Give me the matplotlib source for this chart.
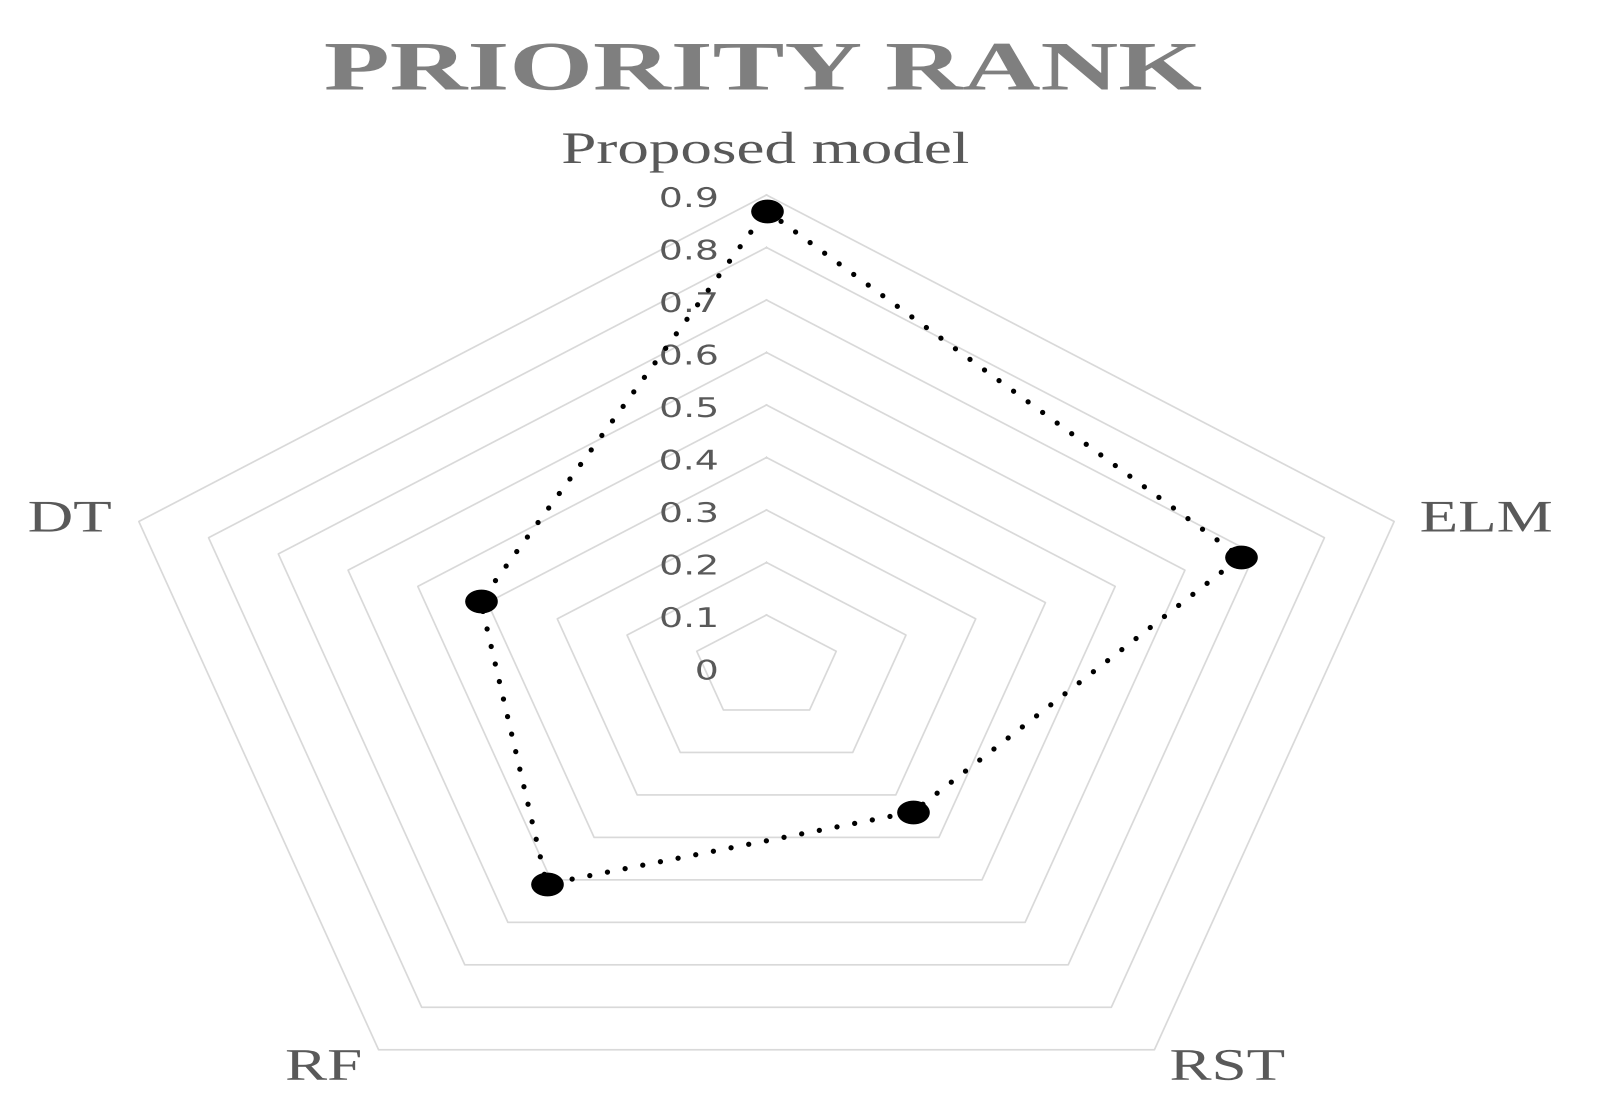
"""Radar chart: priority rank of the proposed model against ELM, RST, RF and DT."""

import matplotlib

matplotlib.use("Agg")
import matplotlib.pyplot as plt
import numpy as np
from matplotlib import patheffects
from matplotlib.transforms import Affine2D


categories = ["Proposed model", "ELM", "RST", "RF", "DT"]
scores = [0.87, 0.68, 0.34, 0.51, 0.41]
levels = [0.1, 0.2, 0.3, 0.4, 0.5, 0.6, 0.7, 0.8, 0.9]
tick_values = [0.0, 0.1, 0.2, 0.3, 0.4, 0.5, 0.6, 0.7, 0.8, 0.9]
tick_labels = ["0", "0.1", "0.2", "0.3", "0.4", "0.5", "0.6", "0.7", "0.8", "0.9"]

W, H = 1602, 1109
DPI = 100
CENTER = (766.5, 667.5)      # chart centre in pixels, from top-left
PX_PER_UNIT = (733.3, 525.0)  # the source picture is stretched sideways
STRETCH = PX_PER_UNIT[0] / PX_PER_UNIT[1]

# label offsets (pixels) from the outer ring vertex
label_offsets = [(-1, 32), (92, -10), (73, -30), (-55, -30), (-69, -10)]


class Stretch(patheffects.AbstractPathEffect):
    """Draw text widened horizontally, like the rest of the picture."""

    def __init__(self, sx=STRETCH, anchor="center"):
        super().__init__()
        self.sx = sx
        self.anchor = anchor

    def draw_path(self, renderer, gc, tpath, affine, rgbFace=None):
        ext = tpath.get_extents()
        x0 = {"left": ext.x0, "right": ext.x1}.get(self.anchor, (ext.x0 + ext.x1) / 2)
        widen = Affine2D().translate(-x0, 0).scale(self.sx, 1).translate(x0, 0)
        renderer.draw_path(gc, tpath, widen + affine, rgbFace)


fig = plt.figure(figsize=(W / DPI, H / DPI), dpi=DPI)
ax = fig.add_axes([0, 0, 1, 1])
ax.set_xlim(-CENTER[0] / PX_PER_UNIT[0], (W - CENTER[0]) / PX_PER_UNIT[0])
ax.set_ylim(-(H - CENTER[1]) / PX_PER_UNIT[1], CENTER[1] / PX_PER_UNIT[1])
ax.axis("off")

n = len(categories)
theta = 2 * np.pi * np.arange(n) / n
ux, uy = np.sin(theta), np.cos(theta)

# grid pentagons
for lv in levels:
    ax.plot(np.append(lv * ux, lv * ux[0]), np.append(lv * uy, lv * uy[0]),
            color="#d9d9d9", lw=1.2, zorder=1)

# data series
vals = np.array(scores)
px, py = vals * ux, vals * uy
ax.plot(np.append(px, px[0]), np.append(py, py[0]), color="black", lw=3.8,
        dashes=(0.01, 3.4), dash_capstyle="round", zorder=3)
t = np.linspace(0, 2 * np.pi, 41)
ellipse = np.column_stack([STRETCH * np.cos(t), np.sin(t)])
ax.plot(px, py, linestyle="none", marker=ellipse, markersize=22.5,
        color="black", zorder=4)

# radial tick labels
for v, lab in zip(tick_values, tick_labels):
    ax.annotate(lab, (0, v), xytext=(-48.5, -2), textcoords="offset pixels",
                ha="right", va="center_baseline", fontsize=19.5,
                family="DejaVu Sans", color="#595959", zorder=2,
                path_effects=[Stretch(anchor="right")])

# category labels
outer = max(levels)
for name, (dx, dy), x, y in zip(categories, label_offsets, ux, uy):
    ax.annotate(name, (outer * x, outer * y), xytext=(dx, dy),
                textcoords="offset pixels", ha="center", va="baseline",
                fontsize=32.5, family="Liberation Serif", color="#595959",
                path_effects=[Stretch()])

fig.text(763.5 / W, 1 - 89.5 / H, "PRIORITY RANK", ha="center", va="baseline",
         fontsize=50, family="Liberation Serif", fontweight="bold",
         color="#7f7f7f", path_effects=[Stretch(sx=1.55)])

fig.savefig("out.png", dpi=DPI)
